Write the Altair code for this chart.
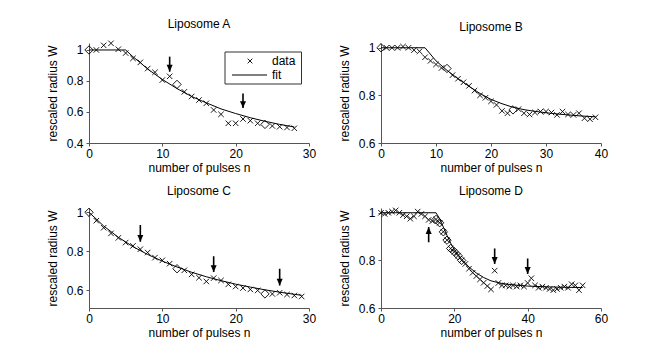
import altair as alt
import pandas as pd

FONT = "Liberation Sans"
XPATH = "M-1,-1L1,1M-1,1L1,-1"
HEAD_DOWN = "M-1,-2.3L1,-2.3L0,0Z"
HEAD_UP = "M-1,2.3L1,2.3L0,0Z"

# ---------------- Liposome A ----------------
a_n = [1, 2, 3, 4, 5, 6, 7, 8, 9, 10, 11, 13, 14, 15, 16, 17, 18, 19, 20, 21, 22, 23, 25, 26, 27, 28]
a_w = [1.0, 1.03, 1.043, 1.005, 0.98, 0.946, 0.92, 0.88, 0.856, 0.806, 0.83, 0.73, 0.70, 0.677, 0.656,
       0.613, 0.585, 0.527, 0.527, 0.555, 0.544, 0.527, 0.51, 0.505, 0.50, 0.495]
a_dn = [0, 12, 24]
a_dw = [1.0, 0.778, 0.52]
a_fn = [0, 5, 6, 7, 8, 10, 12, 14, 16, 18, 20, 22, 24, 26, 28]
a_fw = [1.0, 1.0, 0.956, 0.918, 0.877, 0.81, 0.751, 0.70, 0.659, 0.62, 0.59, 0.563, 0.54, 0.52, 0.503]
a_arrow_n = [11, 21]
a_arrow_tail = [0.957, 0.72]
a_arrow_tip = [0.86, 0.625]
a_arrow_dir = ["down", "down"]

# ---------------- Liposome B ----------------
b_n = [1, 2, 3, 4, 5, 6, 7, 8, 9, 10, 11, 13, 14, 15, 16, 17, 18, 19, 20, 21, 22, 23, 25, 26, 27, 28,
       29, 30, 31, 32, 33, 34, 35, 36, 37, 38, 39]
b_w = [1.0, 1.0, 1.0, 1.005, 1.0, 0.99, 0.985, 0.96, 0.945, 0.93, 0.915, 0.885, 0.87, 0.855, 0.84, 0.82,
       0.80, 0.79, 0.775, 0.76, 0.735, 0.725, 0.742, 0.725, 0.72, 0.728, 0.732, 0.732, 0.728, 0.718,
       0.732, 0.72, 0.718, 0.725, 0.704, 0.70, 0.708]
b_dn = [0, 12, 24]
b_dw = [1.0, 0.913, 0.739]
b_fn = [0, 8, 10, 12, 14, 16, 18, 20, 22, 24, 26, 28, 30, 32, 34, 36, 39]
b_fw = [1.0, 1.0, 0.945, 0.905, 0.87, 0.838, 0.808, 0.783, 0.765, 0.75, 0.74, 0.733, 0.727, 0.722,
        0.718, 0.714, 0.71]

# ---------------- Liposome C ----------------
c_n = [1, 2, 3, 4, 5, 6, 7, 8, 9, 10, 11, 13, 14, 15, 16, 17, 18, 19, 20, 21, 22, 23, 25, 26, 27, 28, 29]
c_w = [0.957, 0.921, 0.892, 0.869, 0.845, 0.828, 0.811, 0.794, 0.768, 0.754, 0.737, 0.703, 0.682, 0.665,
       0.646, 0.663, 0.651, 0.631, 0.62, 0.612, 0.605, 0.60, 0.582, 0.588, 0.579, 0.574, 0.569]
c_dn = [0, 12, 24]
c_dw = [1.0, 0.711, 0.582]
c_fn = [0, 2, 4, 6, 8, 10, 12, 14, 16, 18, 20, 22, 24, 26, 28, 29]
c_fw = [1.0, 0.93, 0.872, 0.824, 0.784, 0.75, 0.72, 0.693, 0.67, 0.65, 0.632, 0.617, 0.603, 0.591,
        0.58, 0.575]
c_arrow_n = [7, 17, 26]
c_arrow_tail = [0.935, 0.775, 0.711]
c_arrow_tip = [0.849, 0.694, 0.625]
c_arrow_dir = ["down", "down", "down"]

# ---------------- Liposome D ----------------
d_n = list(range(0, 56))
d_w = [1.0, 0.995, 1.0, 1.005, 1.01, 1.0, 0.99, 0.985, 0.975, 0.985,
       1.005, 0.995, 0.985, 0.97, 0.965, 0.972, 0.958, 0.92, 0.885, 0.85,
       0.836, 0.82, 0.80, 0.785, 0.765, 0.748, 0.734, 0.72, 0.706, 0.692,
       0.678, 0.757, 0.705, 0.695, 0.695, 0.69, 0.695, 0.69, 0.695, 0.69,
       0.705, 0.725, 0.695, 0.685, 0.69, 0.685, 0.68, 0.675, 0.68, 0.685,
       0.69, 0.685, 0.70, 0.695, 0.675, 0.695]
d_dn = [15, 16, 17, 18, 19, 20, 21, 22]
d_dw = [0.972, 0.958, 0.92, 0.885, 0.85, 0.836, 0.82, 0.80]
d_fn = [0, 15, 16, 17, 18, 19, 20, 22, 24, 26, 28, 30, 33, 36, 40, 45, 50, 55]
d_fw = [1.0, 1.0, 0.975, 0.94, 0.905, 0.872, 0.845, 0.805, 0.772, 0.747, 0.728, 0.714, 0.703,
        0.697, 0.692, 0.689, 0.687, 0.686]
d_arrow_n = [13, 31, 40]
d_arrow_tail = [0.876, 0.85, 0.808]
d_arrow_tip = [0.94, 0.785, 0.743]
d_arrow_dir = ["up", "down", "down"]

W, H = 220, 100


def panel(title, n, w, dn, dw, fn, fw, xdom, ydom, xt, yt,
          an=None, atail=None, atip=None, adir=None, legend=False):
    xs = alt.Scale(domain=xdom, nice=False, zero=False)
    ys = alt.Scale(domain=ydom, nice=False, zero=False)
    xax = alt.Axis(values=xt, title="number of pulses n", labelFlush=False, labelOverlap=False,
                   labelBound=False)
    yax = alt.Axis(values=yt, title="rescaled radius W", format="~g", labelOverlap=False,
                   labelBound=False, labelSeparation=0)

    def X(f):
        return alt.X(f, scale=xs, axis=xax)

    def Y(f):
        return alt.Y(f, scale=ys, axis=yax)

    fit = alt.Chart(pd.DataFrame({"n": fn, "w": fw})).mark_line(
        color="black", strokeWidth=1).encode(x=X("n:Q"), y=Y("w:Q"))
    pts = alt.Chart(pd.DataFrame({"n": n, "w": w})).mark_point(
        shape=XPATH, size=30, filled=False, color="black", strokeWidth=0.9, opacity=1).encode(
        x=X("n:Q"), y=Y("w:Q"))
    dia = alt.Chart(pd.DataFrame({"n": dn, "w": dw})).mark_point(
        shape="diamond", size=70, filled=False, color="black", strokeWidth=0.9, opacity=1).encode(
        x=X("n:Q"), y=Y("w:Q"))
    layers = [fit, pts, dia]
    if an:
        adf = pd.DataFrame({"n": an, "tail": atail, "tip": atip, "dir": adir})
        shaft = alt.Chart(adf).mark_rule(color="black", strokeWidth=1.6).encode(
            x=X("n:Q"), y=Y("tail:Q"), y2="tip:Q")
        head = alt.Chart(adf).mark_point(filled=True, color="black", size=36, opacity=1).encode(
            x=X("n:Q"), y=Y("tip:Q"),
            shape=alt.Shape("dir:N", scale=alt.Scale(domain=["down", "up"], range=[HEAD_DOWN, HEAD_UP]),
                            legend=None))
        layers += [shaft, head]
    if legend:
        one = alt.Data(values=[{"k": 0}])
        box = alt.Chart(one).mark_rect(fill="white", stroke="#333333", strokeWidth=1).encode(
            x=alt.value(136), x2=alt.value(212.5), y=alt.value(9), y2=alt.value(41))
        lx = alt.Chart(one).mark_point(shape=XPATH, size=22, filled=False, color="black",
                                       strokeWidth=0.9, opacity=1).encode(
            x=alt.value(161), y=alt.value(18))
        ll = alt.Chart(one).mark_rule(color="black", strokeWidth=1).encode(
            x=alt.value(143), x2=alt.value(178), y=alt.value(32))
        t1 = alt.Chart(one).mark_text(text="data", align="left", baseline="middle", font=FONT,
                                      fontSize=12, color="black").encode(
            x=alt.value(183), y=alt.value(17.5))
        t2 = alt.Chart(one).mark_text(text="fit", align="left", baseline="middle", font=FONT,
                                      fontSize=12, color="black").encode(
            x=alt.value(183), y=alt.value(32))
        layers += [box, lx, ll, t1, t2]
    return alt.layer(*layers).properties(width=W, height=H, title=title)


A = panel("Liposome A", a_n, a_w, a_dn, a_dw, a_fn, a_fw, [0, 30], [0.4, 1.045],
          [0, 10, 20, 30], [0.4, 0.6, 0.8, 1.0], a_arrow_n, a_arrow_tail, a_arrow_tip, a_arrow_dir,
          legend=True)
B = panel("Liposome B", b_n, b_w, b_dn, b_dw, b_fn, b_fw, [0, 40], [0.6, 1.02],
          [0, 10, 20, 30, 40], [0.6, 0.8, 1.0])
C = panel("Liposome C", c_n, c_w, c_dn, c_dw, c_fn, c_fw, [0, 30], [0.51, 1.022],
          [0, 10, 20, 30], [0.6, 0.8, 1.0], c_arrow_n, c_arrow_tail, c_arrow_tip, c_arrow_dir)
D = panel("Liposome D", d_n, d_w, d_dn, d_dw, d_fn, d_fw, [0, 60], [0.6, 1.02],
          [0, 20, 40, 60], [0.6, 0.8, 1.0], d_arrow_n, d_arrow_tail, d_arrow_tip, d_arrow_dir)

chart = alt.concat(A, B, C, D, columns=2, spacing={"row": 65, "column": 72}, bounds="flush").properties(
    padding={"left": 38, "top": 9, "right": 5, "bottom": 5}
).configure_view(strokeWidth=0).configure_axis(
    labelFont=FONT, titleFont=FONT, labelFontSize=12, titleFontSize=12, titleFontWeight="normal",
    labelColor="black", titleColor="black", domainColor="#555555", tickColor="#555555",
    domainWidth=1, tickSize=3, grid=False, labelOverlap=False, labelBound=False
).configure_axisX(labelPadding=2, titlePadding=3).configure_axisY(
    labelPadding=3, titlePadding=7
).configure_title(font=FONT, fontSize=12, fontWeight="normal", color="black", offset=8)

chart.save("out.html", embed_options={"renderer": "svg", "actions": False})
